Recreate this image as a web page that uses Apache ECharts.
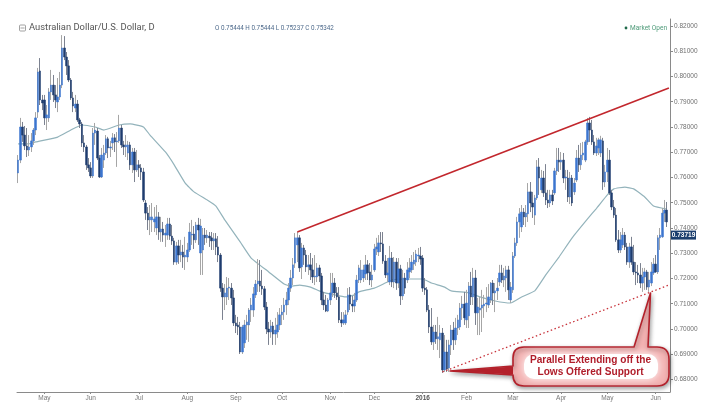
<!DOCTYPE html>
<html>
<head>
<meta charset="utf-8">
<style>html,body{margin:0;padding:0;background:#fff}#chart{width:713px;height:411px}</style>
<script src="https://cdn.jsdelivr.net/npm/echarts@6/dist/echarts.min.js"></script>
</head>
<body>
<div id="chart"></div>
<script>
// AUD/USD daily candles, one list per calendar month: [open, close, low, high]
const apr15 = [[.7618,.7669,.7578,.7689],[.7669,.7800,.7657,.7836],[.7800,.7768,.7741,.7820],[.7768,.7725,.7709,.7804],[.7725,.7709,.7681,.7796],[.7709,.7721,.7685,.7768],[.7721,.7745,.7701,.7776],[.7745,.7788,.7729,.7796],[.7788,.7836,.7768,.7859],[.7859,.8018,.7836,.8034],[.8022,.7907,.7887,.8073],[.7907,.7895,.7867,.7927]];
const may15 = [[.7907,.7836,.7808,.7927],[.7836,.7848,.7788,.7887],[.7836,.7939,.7820,.7954],[.7939,.7966,.7907,.8026],[.7966,.7927,.7899,.8006],[.7927,.7907,.7875,.7966],[.7899,.7919,.7859,.7994],[.7919,.7966,.7907,.8018],[.7966,.8113,.7954,.8164],[.8113,.8077,.8065,.8160],[.8077,.8042,.8006,.8097],[.8042,.7986,.7978,.8065],[.7986,.7915,.7907,.7994],[.7915,.7883,.7859,.7939],[.7875,.7891,.7859,.7927],[.7891,.7828,.7820,.7907],[.7828,.7812,.7796,.7836],[.7812,.7737,.7721,.7820],[.7737,.7721,.7701,.7768],[.7721,.7650,.7630,.7729],[.7650,.7638,.7622,.7677]];
const jun15 = [[.7638,.7606,.7598,.7661],[.7606,.7776,.7598,.7796],[.7776,.7788,.7729,.7816],[.7784,.7677,.7669,.7796],[.7677,.7602,.7598,.7689],[.7602,.7689,.7598,.7717],[.7669,.7697,.7638,.7729],[.7697,.7753,.7689,.7768],[.7753,.7717,.7677,.7761],[.7717,.7721,.7681,.7745],[.7737,.7757,.7709,.7776],[.7757,.7741,.7701,.7772],[.7741,.7745,.7642,.7780],[.7745,.7796,.7737,.7848],[.7796,.7729,.7717,.7808],[.7729,.7721,.7689,.7745],[.7721,.7729,.7681,.7768],[.7697,.7729,.7669,.7745],[.7729,.7650,.7630,.7741],[.7650,.7701,.7618,.7717],[.7701,.7630,.7582,.7717],[.7630,.7650,.7622,.7709]];
const jul15 = [[.7650,.7638,.7602,.7669],[.7638,.7622,.7590,.7653],[.7622,.7511,.7503,.7638],[.7499,.7459,.7432,.7511],[.7459,.7432,.7392,.7483],[.7432,.7444,.7372,.7491],[.7432,.7444,.7384,.7499],[.7424,.7436,.7384,.7483],[.7400,.7444,.7372,.7491],[.7444,.7384,.7353,.7463],[.7384,.7396,.7345,.7444],[.7396,.7372,.7345,.7424],[.7372,.7380,.7325,.7412],[.7372,.7416,.7353,.7440],[.7416,.7368,.7353,.7440],[.7368,.7349,.7333,.7412],[.7349,.7265,.7254,.7361],[.7265,.7329,.7254,.7345],[.7329,.7293,.7258,.7353],[.7293,.7305,.7265,.7353],[.7305,.7285,.7242,.7333],[.7285,.7293,.7234,.7365]];
const aug15 = [[.7285,.7313,.7265,.7341],[.7313,.7384,.7305,.7420],[.7372,.7376,.7333,.7432],[.7376,.7353,.7317,.7408],[.7353,.7412,.7341,.7424],[.7412,.7392,.7333,.7440],[.7301,.7408,.7214,.7436],[.7313,.7372,.7214,.7400],[.7372,.7361,.7333,.7400],[.7361,.7372,.7341,.7392],[.7368,.7361,.7325,.7384],[.7361,.7349,.7313,.7384],[.7349,.7357,.7313,.7380],[.7357,.7325,.7293,.7380],[.7325,.7293,.7265,.7368],[.7293,.7162,.7147,.7301],[.7162,.7127,.7036,.7182],[.7127,.7143,.7075,.7178],[.7127,.7162,.7095,.7206],[.7162,.7166,.7115,.7202],[.7162,.7123,.7095,.7182],[.7123,.7024,.7012,.7155]];
const sep15 = [[.7024,.7012,.6984,.7056],[.7016,.7008,.6976,.7048],[.7008,.6909,.6901,.7028],[.6909,.7008,.6901,.7016],[.6945,.7016,.6925,.7036],[.7016,.7028,.6957,.7056],[.7016,.7075,.6949,.7083],[.7075,.7095,.7028,.7123],[.7075,.7139,.7048,.7166],[.7135,.7178,.7123,.7194],[.7178,.7190,.7147,.7277],[.7190,.7170,.7147,.7273],[.7170,.7159,.7135,.7234],[.7159,.7087,.7075,.7170],[.7087,.7000,.6980,.7107],[.7000,.6988,.6937,.7028],[.6988,.7012,.6965,.7036],[.7012,.6980,.6937,.7028],[.6980,.6996,.6937,.7044],[.6988,.7016,.6965,.7067],[.7016,.7056,.6996,.7083]];
const oct15 = [[.7056,.7067,.7016,.7095],[.7067,.7095,.7036,.7123],[.7095,.7115,.7056,.7147],[.7115,.7162,.7095,.7182],[.7162,.7202,.7147,.7234],[.7202,.7254,.7174,.7281],[.7261,.7361,.7242,.7380],[.7333,.7361,.7265,.7384],[.7361,.7242,.7226,.7372],[.7246,.7321,.7198,.7341],[.7321,.7293,.7254,.7333],[.7293,.7246,.7226,.7313],[.7246,.7254,.7214,.7293],[.7254,.7234,.7194,.7301],[.7234,.7206,.7182,.7281],[.7206,.7210,.7174,.7293],[.7206,.7242,.7186,.7261],[.7242,.7210,.7186,.7254],[.7210,.7115,.7095,.7222],[.7115,.7095,.7075,.7147],[.7095,.7071,.7067,.7135],[.7071,.7115,.7067,.7123]];
const nov15 = [[.7115,.7143,.7095,.7222],[.7143,.7182,.7127,.7222],[.7182,.7143,.7123,.7202],[.7143,.7127,.7115,.7166],[.7127,.7036,.7024,.7166],[.7036,.7024,.7008,.7067],[.7024,.7036,.7016,.7067],[.7024,.7056,.7016,.7075],[.7067,.7135,.7056,.7162],[.7135,.7099,.7075,.7166],[.7099,.7091,.7067,.7131],[.7091,.7115,.7067,.7143],[.7115,.7194,.7107,.7214],[.7194,.7242,.7182,.7254],[.7194,.7234,.7182,.7273],[.7202,.7234,.7186,.7254],[.7218,.7254,.7194,.7293],[.7254,.7222,.7194,.7273],[.7226,.7194,.7174,.7261],[.7194,.7214,.7166,.7254]];
const dec15 = [[.7234,.7317,.7226,.7337],[.7317,.7325,.7293,.7361],[.7305,.7341,.7289,.7372],[.7341,.7337,.7305,.7384],[.7337,.7269,.7258,.7384],[.7269,.7214,.7202,.7293],[.7214,.7222,.7186,.7281],[.7186,.7281,.7174,.7329],[.7281,.7186,.7166,.7305],[.7186,.7265,.7162,.7285],[.7265,.7182,.7155,.7281],[.7182,.7238,.7162,.7281],[.7238,.7131,.7095,.7254],[.7131,.7202,.7115,.7234],[.7202,.7162,.7139,.7222],[.7194,.7234,.7182,.7265],[.7226,.7242,.7202,.7281],[.7234,.7265,.7222,.7293],[.7257,.7273,.7234,.7305],[.7265,.7297,.7250,.7313],[.7289,.7293,.7265,.7321],[.7289,.7277,.7254,.7325]];
const jan16 = [[.7281,.7162,.7147,.7293],[.7162,.7155,.7135,.7202],[.7155,.7075,.7067,.7166],[.7075,.7008,.6984,.7095],[.7008,.6949,.6937,.7083],[.6949,.6988,.6917,.7016],[.6988,.6961,.6941,.7016],[.6961,.6969,.6917,.7048],[.6957,.6984,.6885,.7016],[.6984,.6838,.6826,.7004],[.6838,.6909,.6830,.6976],[.6909,.6842,.6830,.6957],[.6846,.6937,.6830,.6957],[.6937,.6996,.6897,.7016],[.6996,.6957,.6917,.7028],[.6957,.7004,.6937,.7044],[.7004,.7036,.6976,.7056],[.7008,.7083,.6996,.7103],[.7083,.7099,.7036,.7131],[.7099,.7044,.7016,.7147]];
const feb16 = [[.7036,.7103,.7004,.7155],[.7052,.7170,.7004,.7186],[.7170,.7127,.7095,.7226],[.7127,.7202,.7095,.7242],[.7202,.7064,.7016,.7234],[.7064,.7087,.6976,.7123],[.7075,.7083,.6976,.7127],[.7083,.7095,.6988,.7155],[.7091,.7099,.7044,.7135],[.7099,.7103,.7067,.7166],[.7095,.7127,.7083,.7178],[.7115,.7182,.7103,.7186],[.7182,.7143,.7095,.7194],[.7143,.7151,.7067,.7182],[.7151,.7162,.7115,.7202],[.7186,.7222,.7170,.7254],[.7222,.7194,.7182,.7254],[.7194,.7210,.7166,.7242],[.7202,.7234,.7147,.7250],[.7234,.7155,.7115,.7250],[.7115,.7166,.7103,.7186]];
const mar16 = [[.7155,.7289,.7143,.7305],[.7289,.7341,.7281,.7361],[.7341,.7424,.7329,.7444],[.7424,.7456,.7361,.7479],[.7404,.7463,.7384,.7491],[.7463,.7444,.7412,.7479],[.7444,.7459,.7404,.7491],[.7456,.7543,.7424,.7578],[.7543,.7499,.7463,.7582],[.7499,.7483,.7440,.7543],[.7451,.7519,.7412,.7531],[.7519,.7642,.7511,.7669],[.7642,.7598,.7531,.7677],[.7551,.7598,.7539,.7630],[.7598,.7539,.7523,.7626],[.7539,.7511,.7491,.7653],[.7511,.7499,.7479,.7551],[.7499,.7531,.7483,.7551],[.7531,.7507,.7491,.7551],[.7539,.7626,.7531,.7638],[.7626,.7669,.7610,.7717],[.7669,.7661,.7622,.7717]];
const apr16 = [[.7661,.7669,.7630,.7701],[.7669,.7598,.7578,.7697],[.7598,.7602,.7551,.7630],[.7598,.7523,.7503,.7630],[.7523,.7598,.7495,.7622],[.7598,.7499,.7487,.7610],[.7543,.7578,.7531,.7598],[.7590,.7677,.7582,.7709],[.7677,.7650,.7622,.7729],[.7650,.7689,.7630,.7737],[.7689,.7697,.7669,.7741],[.7669,.7741,.7661,.7749],[.7741,.7816,.7729,.7836],[.7816,.7788,.7741,.7840],[.7788,.7741,.7729,.7828],[.7741,.7697,.7689,.7768],[.7697,.7725,.7685,.7757],[.7717,.7749,.7689,.7757],[.7697,.7749,.7681,.7765],[.7745,.7582,.7551,.7757],[.7582,.7622,.7562,.7650]];
const may16 = [[.7622,.7669,.7582,.7717],[.7669,.7539,.7531,.7709],[.7539,.7483,.7471,.7551],[.7483,.7451,.7440,.7511],[.7451,.7353,.7345,.7479],[.7353,.7313,.7301,.7392],[.7313,.7353,.7301,.7384],[.7333,.7372,.7321,.7400],[.7372,.7325,.7313,.7384],[.7325,.7265,.7254,.7341],[.7265,.7325,.7242,.7341],[.7325,.7265,.7254,.7365],[.7265,.7226,.7214,.7333],[.7226,.7222,.7174,.7265],[.7222,.7214,.7182,.7254],[.7214,.7182,.7162,.7261],[.7182,.7206,.7147,.7242],[.7206,.7226,.7155,.7242],[.7226,.7166,.7155,.7234],[.7166,.7194,.7147,.7226],[.7182,.7226,.7170,.7265],[.7222,.7257,.7214,.7281]];
const jun16 = [[.7257,.7226,.7222,.7293],[.7226,.7361,.7218,.7372],[.7361,.7372,.7313,.7400],[.7365,.7459,.7361,.7479],[.7459,.7471,.7424,.7511],[.7471,.7424,.7404,.7503]];

// Month captions and the bar each month opens on
const monthLabels = ['May','Jun','Jul','Aug','Sep','Oct','Nov','Dec','2016','Feb','Mar','Apr','May','Jun'];
const monthStarts = [12,33,55,77,99,120,142,162,184,204,225,247,268,290];

// Price scale
const priceTicks = [0.68,0.69,0.70,0.71,0.72,0.73,0.74,0.75,0.76,0.77,0.78,0.79,0.80,0.81,0.82];
const priceMin = 0.67505, priceMax = 0.82277;
const lastPrice = 0.73719;

// Moving average, sampled along its course
const maBars = [0,5,8,18,24,29,35,39,46,51,57,60,67,71,76,80,86,90,94,101,106,114,121,124,128,133,138,144,149,153,155,162,167,170,176,184,188,194,197,205,210,217,224,229,235,240,246,252,259,263,268,271,276,280,285,289,295];
const maValues = [.7733,.7733,.7741,.7760,.7788,.7808,.7800,.7788,.7808,.7812,.7800,.7768,.7701,.7650,.7578,.7543,.7511,.7487,.7432,.7345,.7281,.7226,.7178,.7170,.7174,.7166,.7147,.7135,.7127,.7135,.7147,.7162,.7182,.7194,.7198,.7198,.7182,.7166,.7151,.7143,.7127,.7111,.7103,.7127,.7151,.7214,.7285,.7361,.7436,.7477,.7531,.7555,.7562,.7555,.7523,.7487,.7475];

// Trend lines: resistance from the October high, parallel from the January low
const upperTrend = [[127,.7384],[296,.7954]];
const lowerTrend = [[193,.6830],[296,.7174]];

const candles = [].concat(apr15,may15,jun15,jul15,aug15,sep15,oct15,nov15,dec15,jan16,feb16,mar16,apr16,may16,jun16);
const barCount = candles.length + 1;
const categories = Array.from({length: barCount}, (_, i) => {
  const m = monthStarts.indexOf(i);
  return m >= 0 ? monthLabels[m] : '';
});

// Speech-bubble outline with one pointer up to the support line and one left to the low
const calloutOutline =
  'M524 347 L634 347 L650.5 293 L648 347 L657 347 Q669 347 669 359 L669 374 Q669 386 657 386 ' +
  'L524 386 Q513 386 513 375 L450 371 L513 366 L513 358 Q513 347 524 347 Z';
echarts.graphic.registerShape('callout', echarts.graphic.extendPath(calloutOutline, {}));

const chart = echarts.init(document.getElementById('chart'), null, {renderer: 'canvas'});
const sans = '"Liberation Sans", Arial, sans-serif';
const ui = 'Roboto, sans-serif';

chart.setOption({
  animation: false,
  backgroundColor: '#ffffff',
  grid: {left: 17, right: 43, top: 19, bottom: 19},
  xAxis: {
    type: 'category', data: categories, boundaryGap: true,
    axisLine: {lineStyle: {color: '#8a8a8a', width: 1}},
    axisTick: {show: true, length: 2, alignWithLabel: true, lineStyle: {color: '#8a8a8a'},
      interval: (i, v) => v !== ''},
    axisLabel: {
      interval: (i, v) => v !== '', margin: 3, fontFamily: sans, fontSize: 6.5, color: '#777777',
      formatter: v => v === '2016' ? '{y|2016}' : v,
      rich: {y: {fontFamily: sans, fontSize: 6.5, fontWeight: 'bold', color: '#555555'}}
    },
    splitLine: {show: false}
  },
  yAxis: {
    type: 'value', position: 'right', min: priceMin, max: priceMax,
    axisLine: {show: true, lineStyle: {color: '#8a8a8a', width: 1}},
    axisTick: {show: true, length: 3, lineStyle: {color: '#8a8a8a'}, customValues: priceTicks},
    axisLabel: {margin: 4, fontFamily: sans, fontSize: 6.5, color: '#6f6f6f', showMinLabel: true, showMaxLabel: true,
      customValues: priceTicks, formatter: v => v.toFixed(5)},
    splitLine: {show: false}
  },
  series: [
    {type: 'line', name: 'MA', z: 2, showSymbol: false, smooth: 0.12, silent: true,
      data: maBars.map((b, i) => [b, maValues[i]]),
      lineStyle: {color: '#93b3bb', width: 1.2}},
    // Wicks
    {type: 'candlestick', name: 'wicks', z: 3, barWidth: 1, silent: true,
      data: candles.map(c => [c[0], c[1], c[2], c[3]]),
      itemStyle: {color: '#a6a6a6', color0: '#8a8f99', borderColor: '#a6a6a6', borderColor0: '#7c8290', borderWidth: 1}},
    // Bodies
    {type: 'candlestick', name: 'bodies', z: 4, barWidth: 2, silent: true,
      data: candles.map(c => [c[0], c[1], Math.min(c[0], c[1]), Math.max(c[0], c[1])]),
      itemStyle: {color: '#3b75cf', color0: '#1e3c6e', borderColor: '#3b75cf', borderColor0: '#1e3c6e', borderWidth: 0.5}},
    {type: 'line', name: 'upper', z: 5, showSymbol: false, silent: true, data: upperTrend,
      lineStyle: {color: '#c2272d', width: 1.6}},
    {type: 'line', name: 'lower', z: 5, showSymbol: false, silent: true, data: lowerTrend,
      lineStyle: {color: '#c8323a', width: 1.3, type: [1.5, 2.5]}}
  ]
});

// Last-price tag sits on the scale at the price it states
const tagY = chart.convertToPixel({yAxisIndex: 0}, lastPrice);

chart.setOption({
  graphic: [
    // Symbol header
    {type: 'rect', shape: {x: 19.5, y: 25, width: 6, height: 6, r: 1}, style: {fill: '#fff', stroke: '#8a8a8a', lineWidth: 0.8}},
    {type: 'line', shape: {x1: 20.5, y1: 28, x2: 24.5, y2: 28}, style: {stroke: '#8a8a8a', lineWidth: 0.8}},
    {type: 'text', x: 29, y: 28, style: {text: 'Australian Dollar/U.S. Dollar, D', font: '9.4px ' + ui, fill: '#555555', textVerticalAlign: 'middle'}},
    {type: 'text', x: 215, y: 28, style: {text: 'O 0.75444 H 0.75444 L 0.75237 C 0.75342', font: '6.3px ' + ui, fill: '#4f6b8c', textVerticalAlign: 'middle'}},
    // Session status
    {type: 'circle', shape: {cx: 626, cy: 28, r: 1.4}, style: {fill: '#1f6a4a'}},
    {type: 'text', x: 630, y: 28, style: {text: 'Market Open', font: '6.5px ' + ui, fill: '#4d9a78', textVerticalAlign: 'middle'}},
    // Last-price tag
    {type: 'rect', shape: {x: 671, y: tagY - 4.5, width: 25, height: 9}, style: {fill: '#1c3f6e'}},
    {type: 'text', x: 683.5, y: tagY, style: {text: lastPrice.toFixed(5), font: 'bold 6.5px ' + sans, fill: '#ffffff', textAlign: 'center', textVerticalAlign: 'middle'}},
    // Callout
    {type: 'callout', z: 20, shape: {},
      style: {fill: '#f3b2b2', stroke: '#b3212b', lineWidth: 1.6, lineJoin: 'round',
        shadowBlur: 4, shadowColor: 'rgba(0,0,0,0.35)', shadowOffsetY: 2, shadowOffsetX: 1}},
    {type: 'polygon', z: 20, shape: {points: [[450, 371], [513, 366.5], [513, 374.5]]}, style: {fill: '#b3212b'}},
    {type: 'rect', z: 21, shape: {x: 524, y: 354, width: 134, height: 25, r: 10},
      style: {fill: '#ffffff', shadowBlur: 9, shadowColor: '#ffffff'}},
    {type: 'text', z: 22, x: 590.5, y: 360, style: {text: 'Parallel Extending off the', font: 'bold 10.1px ' + sans, fill: '#b01d2a', textAlign: 'center', textVerticalAlign: 'middle'}},
    {type: 'text', z: 22, x: 590.5, y: 372, style: {text: 'Lows Offered Support', font: 'bold 10.1px ' + sans, fill: '#b01d2a', textAlign: 'center', textVerticalAlign: 'middle'}}
  ]
});
</script>
</body>
</html>
